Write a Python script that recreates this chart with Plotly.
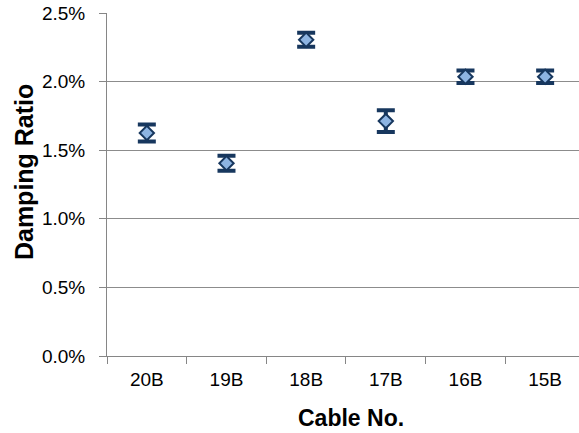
import plotly.graph_objects as go

# Measured damping ratios (%) per cable, with error-bar half-ranges (%)
cables = ["20B", "19B", "18B", "17B", "16B", "15B"]
damping = [1.625, 1.405, 2.305, 1.712, 2.035, 2.035]
spread = [0.062, 0.055, 0.051, 0.080, 0.045, 0.045]
y_ticks = [0.0, 0.5, 1.0, 1.5, 2.0, 2.5]
y_tick_text = ["0.0%", "0.5%", "1.0%", "1.5%", "2.0%", "2.5%"]

navy = "#17375E"
fill = "#8DB4E2"
axis_grey = "#868686"
font_family = "Liberation Sans, Arial, sans-serif"

fig = go.Figure(
    go.Scatter(
        x=cables,
        y=damping,
        mode="markers",
        marker=dict(symbol="diamond", size=11, color=fill,
                    line=dict(color=navy, width=2)),
        error_y=dict(type="data", array=spread, color=navy,
                     thickness=4, width=9),
        showlegend=False,
    )
)

fig.update_layout(
    width=579,
    height=433,
    margin=dict(l=107, r=0, t=13, b=77),
    paper_bgcolor="white",
    plot_bgcolor="white",
    font=dict(family=font_family, size=19, color="black"),
)

fig.update_xaxes(
    type="category",
    range=[-0.5, 5.425],
    showline=True,
    linecolor=axis_grey,
    linewidth=1,
    ticks="outside",
    tickson="boundaries",
    ticklen=7,
    tickcolor=axis_grey,
    showgrid=False,
    tickfont=dict(size=19),
    ticklabelstandoff=6,
)

fig.update_yaxes(
    range=[0, 2.5],
    tickvals=y_ticks,
    ticktext=y_tick_text,
    showline=True,
    linecolor=axis_grey,
    linewidth=1,
    ticks="outside",
    ticklen=7,
    tickcolor=axis_grey,
    showgrid=True,
    gridcolor="#8c8c8c",
    gridwidth=1,
    zeroline=False,
    tickfont=dict(size=19),
    ticklabelstandoff=10,
)

# Axis titles
fig.add_annotation(
    text="<b>Cable No.</b>", xref="paper", yref="paper",
    x=0.518, y=-0.18, xanchor="center", yanchor="middle",
    showarrow=False, font=dict(family=font_family, size=23, color="black"),
)
fig.add_annotation(
    text="<b>Damping Ratio</b>", xref="paper", yref="paper",
    x=-0.176, y=0.536, xanchor="center", yanchor="middle", textangle=-90,
    showarrow=False, font=dict(family=font_family, size=25, color="black"),
)

fig.write_html("out.html")
